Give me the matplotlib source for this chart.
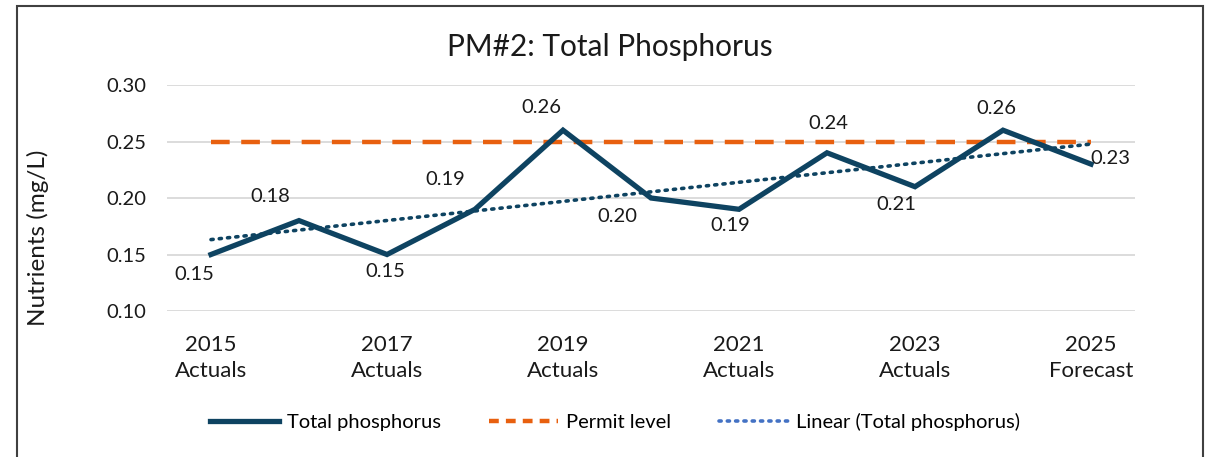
import matplotlib
matplotlib.use("Agg")
import matplotlib.pyplot as plt
from matplotlib.lines import Line2D
from matplotlib.patches import Rectangle
import numpy as np

plt.rcParams['font.family'] = ['Lato', 'DejaVu Sans']

years = ["2015", "2016", "2017", "2018", "2019", "2020", "2021", "2022", "2023", "2024", "2025"]
tick_labels = ["2015\nActuals", "", "2017\nActuals", "", "2019\nActuals", "", "2021\nActuals", "",
               "2023\nActuals", "", "2025\nForecast"]
total_p = [0.15, 0.18, 0.15, 0.19, 0.26, 0.20, 0.19, 0.24, 0.21, 0.26, 0.23]
permit = [0.25] * 11
label_offsets = [(-17, -20), (-29, 24), (-2, -17), (-30, 30), (-22, 23), (-34, -18),
                 (-9, -16), (1, 29), (-19, -18), (-7, 22), (19, 6)]

W, H = 1208, 457
fig = plt.figure(figsize=(W / 100, H / 100), dpi=100)
ax = fig.add_axes([167 / W, 1 - 311 / H, (1135 - 167) / W, (311 - 85) / H])

x = np.arange(len(years))
navy = '#0E4361'
orange = '#E8600F'

# trend line
coef = np.polyfit(x, total_p, 1)
trend = np.polyval(coef, x)
ax.plot(x, trend, color=navy, lw=2.6, linestyle=(0, (0.6, 1.7)), dash_capstyle='round', zorder=3)
ax.plot(x, permit, color=orange, lw=3.2, linestyle=(0, (4.2, 2.6)), zorder=2)
ax.plot(x, total_p, color=navy, lw=3.8, solid_joinstyle='miter', zorder=4)

for i, v in enumerate(total_p):
    dx, dy = label_offsets[i]
    ax.annotate(f"{v:.2f}", (i, v), xytext=(dx, dy), textcoords='offset pixels',
                ha='center', va='center', fontsize=14.5, color='#1a1a1a', zorder=5)

ax.set_xlim(-0.5, 10.5)
ax.set_ylim(0.10, 0.30)
ax.set_yticks([0.10, 0.15, 0.20, 0.25, 0.30])
ax.set_yticklabels([f"{t:.2f}" for t in [0.10, 0.15, 0.20, 0.25, 0.30]], fontsize=14.5, color='#1a1a1a')
ax.set_xticks(x)
ax.set_xticklabels(tick_labels, fontsize=16, color='#1a1a1a', linespacing=1.4)
ax.tick_params(axis='both', length=0)
ax.tick_params(axis='y', pad=15)
ax.tick_params(axis='x', pad=17)
ax.grid(axis='y', color='#D9D9D9', lw=1.3)
ax.set_axisbelow(True)
for s in ax.spines.values():
    s.set_visible(False)

ax.set_ylabel("Nutrients (mg/L)", fontsize=17.5, color='#1a1a1a', va='center')
ax.yaxis.set_label_coords((38 - 167) / (1135 - 167), (311 - 238) / (311 - 85))
fig.text(610 / W, 1 - 47 / H, "PM#2: Total Phosphorus", ha='center', va='center', fontsize=21.5, color='#1a1a1a')

handles = [
    Line2D([], [], color=navy, lw=3.8),
    Line2D([], [], color=orange, lw=3.2, linestyle=(0, (2.2, 1.6))),
    Line2D([], [], color='#4472C4', lw=2.6, linestyle=(0, (0.6, 1.7)), dash_capstyle='round'),
]
fig.legend(handles, ["Total phosphorus", "Permit level", "Linear (Total phosphorus)"],
           loc='center', bbox_to_anchor=(615 / W, 1 - 422 / H), ncol=3, frameon=False,
           fontsize=14.5, handlelength=3.4, handletextpad=0.4, columnspacing=2.4)

fig.patches.append(Rectangle((17 / W, -0.05), (1203 - 17) / W, 1.05 - 6 / H,
                             transform=fig.transFigure, fill=False, edgecolor='#404040', lw=1.5))

fig.savefig("out.png", dpi=100)
